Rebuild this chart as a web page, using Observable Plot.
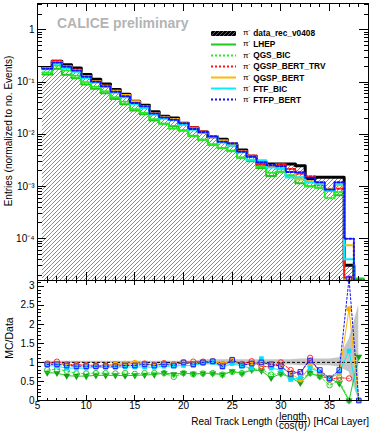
<!DOCTYPE html>
<html><head><meta charset="utf-8">
<script src="https://cdn.jsdelivr.net/npm/d3@7"></script>
<script src="https://cdn.jsdelivr.net/npm/@observablehq/plot@0.6"></script>
<style>
html,body{margin:0;padding:0;background:#fff;}
#chart{position:relative;width:374px;height:431px;overflow:hidden;font-family:"Liberation Sans",Arial,Helvetica,sans-serif;color:#000;background:#fff;}
.ov{position:absolute;white-space:nowrap;line-height:1;}
</style></head>
<body><div id="chart"></div>
<script>
// ---------- data ----------
const layers = [6,7,8,9,10,11,12,13,14,15,16,17,18,19,20,21,22,23,24,25,26,27,28,29,30,31,32,33,34,35,36,37,38];
const dataRec = [0.19,0.25,0.213,0.185,0.14,0.113,0.092,0.072,0.058,0.043,0.036,0.027,0.022,0.0205,0.0163,0.0133,0.011,0.0089,0.0080,0.0063,0.0050,0.0038,0.0029,0.0027,0.0027,0.0027,0.0025,0.0014,0.0015,0.0015,0.0015,3.1e-5,1.5e-5];
const ratioLHEP = [0.73,0.72,0.65,0.64,0.64,0.66,0.66,0.66,0.65,0.66,0.67,0.68,0.72,0.69,0.72,0.70,0.71,0.71,0.68,0.77,0.71,0.80,0.78,0.59,0.71,0.60,0.46,0.72,0.63,0.58,0.45,0.0,1.15];
const ratioQGSBIC = [0.80,0.82,0.78,0.71,0.71,0.72,0.72,0.71,0.72,0.70,0.72,0.72,0.72,0.62,0.72,0.69,0.71,0.72,0.68,0.75,0.72,0.82,0.82,0.68,0.71,0.60,0.55,0.72,0.63,0.40,0.52,0.0,null];
const ratioQGSPBERTTRV = [0.97,1.02,0.95,0.94,0.93,0.92,0.92,0.95,0.95,0.97,0.97,0.93,0.98,0.95,1.00,1.02,1.02,1.03,0.95,1.05,0.96,1.03,0.90,0.88,1.00,0.80,0.70,1.12,0.72,0.55,0.60,0.58,null];
const ratioQGSPBERT = [0.97,0.97,0.93,0.92,0.92,0.92,0.92,0.95,0.97,1.00,0.97,0.93,0.97,0.95,1.00,0.97,1.00,1.04,0.95,1.05,0.93,0.97,1.00,0.95,0.88,0.70,0.55,0.90,0.75,0.60,0.70,2.40,0.0];
const ratioFTFBIC = [0.92,0.90,0.85,0.85,0.85,0.87,0.87,0.87,0.88,0.88,0.88,0.87,0.90,0.90,0.92,0.92,0.97,1.00,0.87,0.97,0.90,0.85,1.10,0.85,0.80,0.55,0.60,0.85,0.75,0.55,0.75,1.30,0.0];
const ratioFTFPBERT = [0.95,0.95,0.92,0.90,0.90,0.90,0.90,0.90,0.92,0.92,0.95,0.92,0.95,0.92,1.00,0.95,1.00,1.03,0.90,1.07,0.92,0.97,1.00,0.95,0.90,0.70,0.75,1.05,0.80,0.58,0.80,3.20,0.0];
const bandLo = [0.97,0.97,0.97,0.97,0.97,0.97,0.97,0.97,0.97,0.97,0.97,0.97,0.97,0.97,0.97,0.97,0.93,0.93,0.93,0.93,0.93,0.93,0.93,0.93,0.93,0.93,0.91,0.91,0.91,0.91,0.88,0.75,0.0];
const bandHi = [1.03,1.03,1.03,1.03,1.03,1.03,1.03,1.03,1.03,1.03,1.03,1.03,1.03,1.03,1.03,1.03,1.07,1.07,1.07,1.07,1.07,1.07,1.07,1.07,1.07,1.07,1.09,1.09,1.09,1.09,1.12,1.60,2.50];
const seriesNames = ["LHEP","QGS_BIC","QGSP_BERT_TRV","QGSP_BERT","FTF_BIC","FTFP_BERT"];
const seriesRatios = [ratioLHEP, ratioQGSBIC, ratioQGSPBERTTRV, ratioQGSPBERT, ratioFTFBIC, ratioFTFPBERT];
const dataName = "data_rec_v0408";
const xMajorTicks = [5,10,15,20,25,30,35];
const yLogTicks = [1e-4,1e-3,1e-2,1e-1,1];
const yRatioTicks = [0,0.5,1,1.5,2,2.5,3];

// ---------- styles ----------
const styles = [
  {color:"#20c820", dash:null,  mFill:"#13a013", mStroke:"none", symbol:"triangle", rotate:180, rdash:null, r:2.6},
  {color:"#22ee22", dash:"2,2", mFill:"none", mStroke:"#2ecc2e", symbol:"circle", rotate:0, rdash:"3,2", r:2.7},
  {color:"#ff1010", dash:"2,2", mFill:"none", mStroke:"#ff3030", symbol:"circle", rotate:0, rdash:"1.5,1.5", r:2.7},
  {color:"#ffb800", dash:null,  mFill:"#ffb000", mStroke:"none", symbol:"circle", rotate:0, rdash:null, r:2.7},
  {color:"#00f0ff", dash:null,  mFill:"#00e0ff", mStroke:"none", symbol:"square", rotate:0, rdash:null, r:2.6},
  {color:"#1010ff", dash:"2,2", mFill:"none", mStroke:"#2020ff", symbol:"square", rotate:0, rdash:"2,2", r:2.6}
];

const X_DOMAIN = [5, 39];
const FLOOR = 1.58e-5;
const font = '"Liberation Sans", Arial, Helvetica, sans-serif';

function steps(vals) {
  const pts = [];
  layers.forEach((c, i) => {
    if (vals[i] == null) return;
    const v = Math.max(vals[i], FLOOR);
    pts.push({x: c - 0.5, y: v}, {x: c + 0.5, y: v});
  });
  return pts;
}
const dataBins = layers.map((c, i) => ({x1: c - 0.5, x2: c + 0.5, base: FLOOR, v: Math.max(dataRec[i], FLOOR)}));
const mcHists = seriesRatios.map(r => layers.map((c, i) => r[i] == null ? null : dataRec[i] * r[i]));

function supMinus(n) {
  const m = {"1":"¹","2":"²","3":"³","4":"⁴","5":"⁵"};
  return "10⁻" + m[n];
}

function drawTicks(svg, box, xt, yt) {
  const sx = svg.scale("x"), sy = svg.scale("y");
  const g = d3.select(svg).append("g").attr("stroke", "#000").attr("stroke-width", 1).attr("shape-rendering", "crispEdges");
  for (const {v, len} of xt) {
    const p = Math.round(sx.apply(v)) + 0.5;
    if (p <= box.left + 1 || p >= box.right - 1) continue;
    g.append("line").attr("x1", p).attr("x2", p).attr("y1", box.bottom).attr("y2", box.bottom - len);
    g.append("line").attr("x1", p).attr("x2", p).attr("y1", box.top).attr("y2", box.top + len);
  }
  for (const {v, len} of yt) {
    const p = Math.round(sy.apply(v)) + 0.5;
    if (p <= box.top + 1 || p >= box.bottom - 1) continue;
    g.append("line").attr("x1", box.left).attr("x2", box.left + len).attr("y1", p).attr("y2", p);
    g.append("line").attr("x1", box.right).attr("x2", box.right - len).attr("y1", p).attr("y2", p);
  }
}

const chart = document.getElementById("chart");

// ---------- top panel ----------
const topMarks = [
  Plot.rect(dataBins, {x1: "x1", x2: "x2", y1: "base", y2: "v", fill: "url(#hatchTop)"}),
  Plot.line(steps(dataRec), {x: "x", y: "y", stroke: "#000", strokeWidth: 3, clip: true})
];
mcHists.forEach((h, k) => {
  topMarks.push(Plot.line(steps(h), {x: "x", y: "y", stroke: styles[k].color, strokeWidth: 2,
    strokeDasharray: styles[k].dash || undefined, clip: true}));
});
topMarks.push(
  Plot.axisY({ticks: yLogTicks, tickSize: 0, tickPadding: 3, label: null,
    tickFormat: d => d === 1 ? "1" : supMinus(String(Math.round(-Math.log10(d))))}),
  Plot.frame({stroke: "#000"})
);
const topPlot = Plot.plot({
  width: 374, height: 281, marginTop: 3, marginBottom: 1, marginLeft: 37, marginRight: 6,
  style: {position: "absolute", left: "0px", top: "0px", background: "transparent", overflow: "visible", fontFamily: font, fontSize: "10px", color: "#000"},
  x: {domain: X_DOMAIN, axis: null},
  y: {type: "log", domain: [FLOOR, 3.19], axis: null},
  marks: topMarks
});
{
  const defs = d3.select(topPlot).insert("defs", ":first-child");
  const pat = defs.append("pattern").attr("id", "hatchTop").attr("patternUnits", "userSpaceOnUse").attr("width", 4).attr("height", 4);
  pat.append("rect").attr("width", 4).attr("height", 4).attr("fill", "#fff");
  pat.append("path").attr("d", "M-1,1 L1,-1 M0,4 L4,0 M3,5 L5,3").attr("stroke", "#6a6a6a").attr("stroke-width", 0.8);
}
const xTicksTop = [];
for (let v = 5; v <= 39; v++) xTicksTop.push({v, len: xMajorTicks.includes(v) ? 8 : 4});
const yTicksTop = [];
for (let k = -5; k <= 0; k++) for (let m = 1; m <= 9; m++) {
  const v = m * Math.pow(10, k);
  if (v >= FLOOR && v <= 3.19) yTicksTop.push({v, len: m === 1 ? 9 : 4.5});
}
drawTicks(topPlot, {left: 37, right: 368, top: 3, bottom: 280}, xTicksTop, yTicksTop);
chart.appendChild(topPlot);

// ---------- bottom panel ----------
const bandRows = layers.map((c, i) => ({x: c, lo: bandLo[i], hi: bandHi[i]}));
const botMarks = [
  Plot.areaY(bandRows, {x: "x", y1: "lo", y2: "hi", fill: "#c4c4c4"}),
  Plot.ruleY([1], {stroke: "#000", strokeDasharray: "3,2", strokeWidth: 1})
];
seriesRatios.forEach((r, k) => {
  const rows = layers.map((c, i) => ({x: c, y: r[i]})).filter(d => d.y != null);
  const s = styles[k];
  botMarks.push(Plot.line(rows, {x: "x", y: "y", stroke: s.color, strokeWidth: 1, strokeDasharray: s.rdash || undefined}));
  botMarks.push(Plot.dot(rows, {x: "x", y: "y", symbol: s.symbol, r: s.r, rotate: s.rotate,
    fill: s.mFill, stroke: s.mStroke, strokeWidth: 1}));
});
botMarks.push(
  Plot.axisX({ticks: xMajorTicks, tickSize: 0, tickPadding: 1.5, label: null}),
  Plot.axisY({ticks: yRatioTicks, tickSize: 0, tickPadding: 3, label: null, tickFormat: d => String(d)}),
  Plot.frame({stroke: "#000"})
);
const botPlot = Plot.plot({
  width: 374, height: 152, marginTop: 1, marginBottom: 31, marginLeft: 37, marginRight: 6,
  style: {position: "absolute", left: "0px", top: "279px", background: "transparent", overflow: "visible", fontFamily: font, fontSize: "10px", color: "#000"},
  x: {domain: X_DOMAIN, axis: null},
  y: {domain: [0, 3.15], axis: null},
  marks: botMarks
});
const xTicksBot = [];
for (let v = 5; v <= 39; v++) xTicksBot.push({v, len: xMajorTicks.includes(v) ? 5 : 2.5});
const yTicksBot = [];
for (let i = 0; i <= 31; i++) { const v = i / 10; yTicksBot.push({v, len: i % 5 === 0 ? 7 : 3.5}); }
drawTicks(botPlot, {left: 37, right: 368, top: 1, bottom: 121}, xTicksBot, yTicksBot);
chart.appendChild(botPlot);

// ---------- overlays: texts and legend ----------
function addDiv(html, css) {
  const d = document.createElement("div");
  d.className = "ov";
  d.style.cssText = css;
  d.innerHTML = html;
  chart.appendChild(d);
  return d;
}
addDiv("CALICE preliminary", "left:57px;top:16.4px;font-size:14px;font-weight:bold;color:#b4b4b4;");
addDiv("Entries (normalized to no. Events)", "left:8.5px;top:131px;font-size:10px;transform:translate(-50%,-50%) rotate(-90deg);");
addDiv("MC/Data", "left:8.5px;top:338px;font-size:10.5px;transform:translate(-50%,-50%) rotate(-90deg);");
addDiv('<span>Real Track Length (</span>' +
  '<span style="display:inline-flex;flex-direction:column;align-items:center;margin:0 0.5px;">' +
  '<span style="display:block;border-bottom:1px solid #000;line-height:8.5px;padding:0">length</span>' +
  '<span style="display:block;line-height:8.5px;padding:0">cos(θ)</span></span>' +
  '<span>)&nbsp;[HCal Layer]</span>',
  "right:5px;top:412.5px;height:18px;font-size:10px;display:flex;align-items:center;");

// legend
const legend = addDiv("", "left:211px;top:27.8px;font-size:8.3px;");
const legendItems = [{name: dataName, data: true}].concat(seriesNames.map((n, k) => ({name: n, k})));
legendItems.forEach((it, i) => {
  let sample;
  if (it.data) {
    sample = '<svg width="25" height="11" style="display:block"><defs><pattern id="hatchLeg" patternUnits="userSpaceOnUse" width="4" height="4">' +
      '<rect width="4" height="4" fill="#000"/><path d="M-1,1 L1,-1 M0,4 L4,0 M3,5 L5,3" stroke="#777" stroke-width="0.8"/></pattern></defs>' +
      '<rect x="0" y="3" width="25" height="5" fill="url(#hatchLeg)"/></svg>';
  } else {
    const s = styles[it.k];
    sample = '<svg width="25" height="11" style="display:block"><line x1="0" x2="25" y1="5.5" y2="5.5" stroke="' + s.color +
      '" stroke-width="2"' + (s.dash ? ' stroke-dasharray="' + s.dash + '"' : '') + '/></svg>';
  }
  const row = document.createElement("div");
  row.style.cssText = "display:flex;align-items:center;height:11.1px;";
  row.innerHTML = sample + '<span style="margin-left:7px;font-weight:normal;font-size:8px">π<span style="font-size:5px;position:relative;top:-3px">-</span></span>' +
    '<span style="margin-left:3px;font-weight:bold">' + it.name + '</span>';
  legend.appendChild(row);
});
</script>
</body></html>
